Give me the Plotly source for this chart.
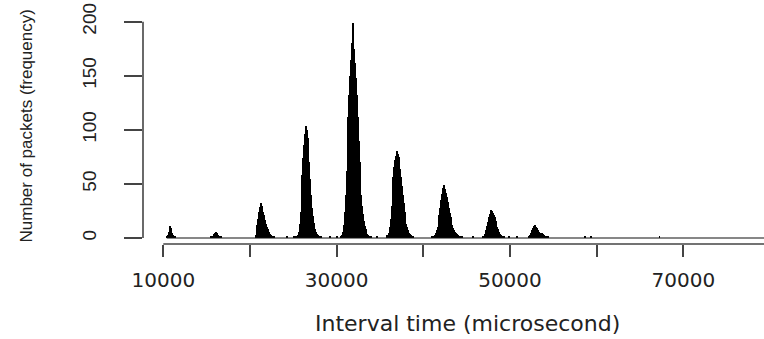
import plotly.graph_objects as go

# ---------------- data (histogram, 100-microsecond bins) ----------------
BIN_WIDTH = 100
HIST_START = 10400
HIST_END = 80400

PEAK_A_START = 10400
PEAK_A_COUNTS = [1, 3, 6, 11, 9, 7, 5, 3, 2, 1]

PEAK_B_START = 15500
PEAK_B_COUNTS = [1, 1, 2, 4, 5, 6, 5, 4, 3, 2, 1, 1]

PEAK_C_START = 20600
PEAK_C_COUNTS = [3, 7, 12, 18, 24, 29, 32, 30, 27, 24, 21, 17, 13, 10, 8, 6, 5, 4, 3, 2, 2, 1]

PEAK_D_START = 25300
PEAK_D_COUNTS = [1, 2, 3, 6, 13, 24, 40, 58, 74, 86, 96, 104, 100, 92, 84, 70, 55, 40,
                 28, 20, 14, 10, 8, 6, 4, 3, 2, 2, 1, 1]

PEAK_E_START = 30500
PEAK_E_COUNTS = [1, 3, 6, 12, 24, 40, 62, 88, 112, 132, 150, 165, 180, 199, 188, 175,
                 162, 148, 132, 112, 90, 70, 52, 40, 30, 22, 16, 11, 8, 5, 4, 3, 2, 1, 1]

PEAK_F_START = 35700
PEAK_F_COUNTS = [1, 2, 3, 5, 10, 18, 30, 44, 56, 66, 72, 76, 80, 78, 75, 70, 64, 56, 48,
                 40, 32, 24, 18, 13, 10, 7, 5, 4, 3, 2, 1, 1]

PEAK_G_START = 41000
PEAK_G_COUNTS = [1, 1, 2, 3, 5, 7, 10, 15, 21, 28, 35, 41, 46, 49, 47, 45, 42, 38, 33,
                 28, 23, 19, 15, 12, 9, 7, 6, 5, 4, 3, 3, 2, 2, 1, 1]

PEAK_H_START = 46800
PEAK_H_COUNTS = [1, 1, 2, 4, 7, 11, 15, 19, 22, 24, 26, 25, 23, 21, 19, 16, 13, 10, 8,
                 6, 4, 3, 2, 2, 1, 1]

PEAK_I_START = 52100
PEAK_I_COUNTS = [1, 2, 3, 5, 7, 9, 11, 12, 11, 10, 9, 7, 6, 5, 4, 5, 5, 4, 3, 2, 1, 1, 1]

SCATTER_BINS = [24200, 25000, 29200, 30000, 34600, 35800, 45700, 49800, 50800,
                58600, 59300, 67200]
SCATTER_COUNTS = [1, 1, 1, 1, 1, 1, 1, 1, 1, 2, 1, 1]

X_TICKS = [10000, 20000, 30000, 40000, 50000, 60000, 70000]
X_TICK_LABELS = ["10000", "", "30000", "", "50000", "", "70000"]
Y_TICKS = [0, 50, 100, 150, 200]
Y_TICK_LABELS = ["0", "50", "100", "150", "200"]

X_TITLE = "Interval time (microsecond)"
Y_TITLE = "Number of packets (frequency)"

# ---------------- build bins ----------------
n_bins = (HIST_END - HIST_START) // BIN_WIDTH
counts = [0] * n_bins
peaks = [
    (PEAK_A_START, PEAK_A_COUNTS), (PEAK_B_START, PEAK_B_COUNTS),
    (PEAK_C_START, PEAK_C_COUNTS), (PEAK_D_START, PEAK_D_COUNTS),
    (PEAK_E_START, PEAK_E_COUNTS), (PEAK_F_START, PEAK_F_COUNTS),
    (PEAK_G_START, PEAK_G_COUNTS), (PEAK_H_START, PEAK_H_COUNTS),
    (PEAK_I_START, PEAK_I_COUNTS),
]
for start, vals in peaks:
    i0 = (start - HIST_START) // BIN_WIDTH
    for j, v in enumerate(vals):
        counts[i0 + j] += v
for b, v in zip(SCATTER_BINS, SCATTER_COUNTS):
    counts[(b - HIST_START) // BIN_WIDTH] += v

centers = [HIST_START + BIN_WIDTH * (i + 0.5) for i in range(n_bins)]
xs = [c for c, v in zip(centers, counts) if v > 0]
ys = [v for v in counts if v > 0]

# ---------------- layout geometry ----------------
W, H = 764, 339
ML, MR, MT, MB = 143, 0, 10, 95
X_RANGE = [7658, 79311]
Y_RANGE = [-5.55, 210.8]

fig = go.Figure()
fig.add_trace(go.Scatter(
    x=[HIST_START, HIST_END], y=[0, 0], mode="lines",
    line=dict(color="#111111", width=1.2), hoverinfo="skip", showlegend=False))
fig.add_trace(go.Bar(
    x=xs, y=ys, width=BIN_WIDTH,
    marker=dict(color="#000000", line=dict(width=0)), showlegend=False))

fig.update_layout(
    width=W, height=H,
    margin=dict(l=ML, r=MR, t=MT, b=MB, pad=0),
    paper_bgcolor="white", plot_bgcolor="white",
    bargap=0, showlegend=False,
    xaxis=dict(
        range=X_RANGE, showgrid=False, zeroline=False, showline=False,
        tickmode="array", tickvals=X_TICKS, ticktext=X_TICK_LABELS,
        ticks="outside", ticklen=12, tickwidth=1.5, tickcolor="#444444",
        tickfont=dict(family="DejaVu Sans", size=20, color="#222222"),
        ticklabelstandoff=6,
    ),
    yaxis=dict(
        range=Y_RANGE, showgrid=False, zeroline=False, showline=False,
        tickmode="array", tickvals=Y_TICKS, ticktext=Y_TICK_LABELS,
        ticks="outside", ticklen=18, tickwidth=1.5, tickcolor="#444444",
        tickangle=-90,
        tickfont=dict(family="Liberation Sans", size=19, color="#222222"),
        ticklabelstandoff=20,
    ),
    shapes=[
        dict(type="line", xref="paper", yref="y", x0=0, x1=0, y0=Y_TICKS[0], y1=Y_TICKS[-1],
             line=dict(color="#444444", width=1.6)),
        dict(type="line", xref="x", yref="paper", x0=X_TICKS[0], x1=X_RANGE[1], y0=0, y1=0,
             line=dict(color="#444444", width=1.6)),
    ],
    annotations=[
        dict(text=Y_TITLE, xref="paper", yref="paper",
             x=(26 - ML) / (W - ML - MR), y=(H - MB - 126.5) / (H - MT - MB),
             xanchor="center", yanchor="middle", textangle=-90, showarrow=False,
             font=dict(family="Liberation Sans", size=17, color="#222222")),
        dict(text=X_TITLE, xref="paper", yref="paper",
             x=(467 - ML) / (W - ML - MR), y=(H - MB - 323) / (H - MT - MB),
             xanchor="center", yanchor="middle", showarrow=False,
             font=dict(family="DejaVu Sans", size=22, color="#222222")),
    ],
)

fig.write_html("out.html")
